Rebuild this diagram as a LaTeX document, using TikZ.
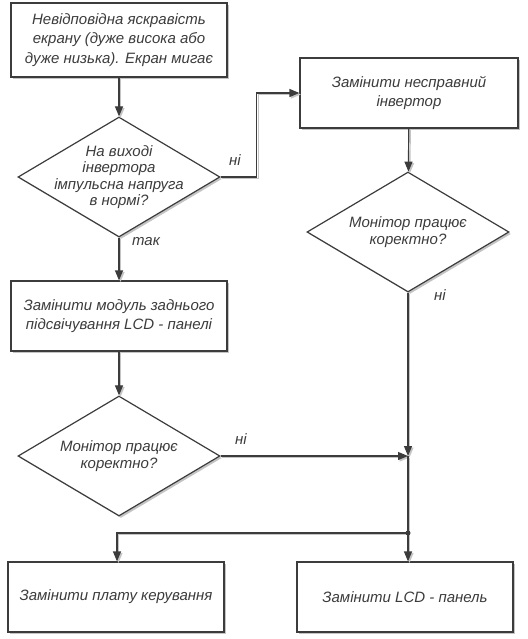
\documentclass[tikz,border=0pt]{standalone}
\usepackage{fontspec}
\setmainfont{Liberation Sans}
\usepackage{tikz}
\usetikzlibrary{arrows.meta,positioning,shapes.geometric,shadows}
\definecolor{ink}{HTML}{3C3C3C}
\definecolor{shade}{HTML}{C4C4C4}

\begin{document}
\begin{tikzpicture}[
  x=1pt, y=-1pt,
  every node/.style={font=\fontsize{15}{19.5}\selectfont\itshape, text=ink},
  box/.style={draw=ink, line width=1.2pt, fill=white, align=center,
    minimum width=216pt, minimum height=70pt, inner sep=0pt,
    drop shadow={shadow xshift=2pt, shadow yshift=-2pt, fill=shade, opacity=1}},
  dia/.style={diamond, draw=ink, line width=1.2pt, fill=white, inner sep=0pt,
    aspect=1.68, minimum width=202pt, minimum height=120pt,
    drop shadow={shadow xshift=2pt, shadow yshift=-2pt, fill=shade, opacity=1}},
  txt/.style={align=center, font=\fontsize{15}{16.5}\selectfont\itshape},
  lbl/.style={font=\fontsize{15}{16}\selectfont\itshape},
  ar/.style={-{Triangle[length=10pt, width=8pt]}, draw=ink, line width=1.2pt,
    preaction={draw=shade, line width=1.2pt, transform canvas={shift={(1.5pt,-1.5pt)}}}},
  ln/.style={draw=ink, line width=1.2pt,
    preaction={draw=shade, line width=1.2pt, transform canvas={shift={(1.5pt,-1.5pt)}}}},
]
\useasboundingbox (0,0) rectangle (527,639);
% left column
\node[box, minimum height=74pt] (start) at (119,40) {Невідповідна яскравість\\екрану (дуже висока або\\дуже низька). Екран мигає};
\node[dia] (inv) at (119,177) {};
\node[txt] at (inv) {На виході\\інвертора\\імпульсна напруга\\в нормі?};
\node[box] (backlight) at (119,316) {Замінити модуль заднього\\підсвічування LCD - панелі};
\node[dia] (chk1) at (119,456) {};
\node[txt] at (chk1) {Монітор працює\\коректно?};
% right column
\node[box, minimum width=218pt] (newinv) at (409,93) {Замінити несправний\\інвертор};
\node[dia] (chk2) at (408,232) {};
\node[txt] at (chk2) {Монітор працює\\коректно?};
% bottom
\node[box] (board) at (116,597) {Замінити плату керування};
\node[box] (panel) at (405,597) {Замінити LCD - панель};
\coordinate (meet) at (408,456);
\coordinate (fork) at (408,533);

\draw[ar] (start) -- (inv);
\draw[ar] (inv.east) -- ++(36,0) |- (newinv.west);
\draw[ar] (inv) -- (backlight);
\draw[ar] (backlight) -- (chk1);
\draw[ar] (newinv) -- (chk2);
\draw[ar] (chk2.south) -- (meet);
\draw[ar] (chk1.east) -- (meet);
\draw[ln] (meet) -- (fork);
\draw[ar] (fork) -- (fork |- panel.north);
\draw[ar] (fork) -| (board.north -| 117,0);
\fill[ink] (fork) circle (2.5pt);

\node[lbl] (no1) at (235,160) {ні};
\node[lbl] (yes1) at (146,242) {так};
\node[lbl] (no2) at (440,295) {ні};
\node[lbl] (no3) at (241,439) {ні};
\end{tikzpicture}
\end{document}
